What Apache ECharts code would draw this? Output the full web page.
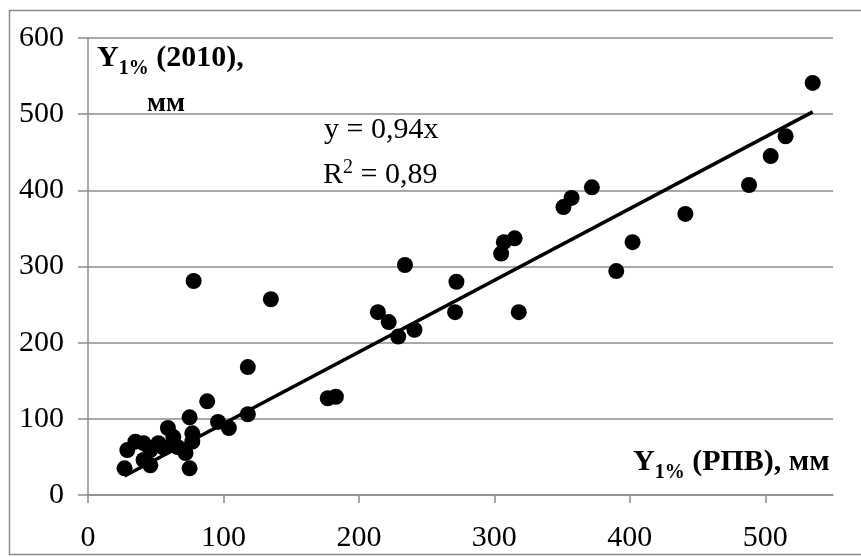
<!DOCTYPE html>
<html>
<head>
    <meta charset="UTF-8">
    <title>Y1% (2010) vs Y1% (РПВ)</title>
    <script src="https://cdn.jsdelivr.net/npm/echarts@6/dist/echarts.min.js"></script>
    <style>
        html, body { margin: 0; padding: 0; background: #fff; }
        #main { width: 861px; height: 557px; }
    </style>
</head>
<body>
<div id="main"></div>
<script type="text/javascript">
    // measured points: x = Y1% (РПВ), y = Y1% (2010), mm
    var pointsX = [535, 515, 504, 488, 441, 402, 390, 372, 357, 351,
                   315, 307, 305, 234, 272, 271, 318, 214, 222, 241,
                   229, 177, 183, 118, 135, 78, 88, 118, 96, 104,
                   77, 75, 77, 59, 63, 72, 75, 66, 52, 46,
                   41, 35, 29, 27, 41, 46, 56];
    var pointsY = [541, 471, 445, 407, 369, 332, 294, 404, 390, 378,
                   337, 332, 317, 302, 280, 240, 240, 240, 227, 217,
                   208, 127, 129, 168, 257, 281, 123, 106, 96, 88,
                   81, 102, 70, 88, 76, 55, 35, 63, 68, 59,
                   46, 70, 59, 35, 68, 39, 62];
    // trend line ends (y = 0,94x)
    var trendX = [27, 535];
    var trendY = [25, 503];
    var xTicks = [0, 100, 200, 300, 400, 500];

    var scatterData = pointsX.map(function (x, i) { return [x, pointsY[i]]; });
    var trendData = trendX.map(function (x, i) { return [x, trendY[i]]; });

    var font = '"Liberation Serif", "Times New Roman", serif';
    var myChart = echarts.init(document.getElementById('main'));

    var option = {
        backgroundColor: '#fff',
        animation: false,
        grid: { left: 88, right: 28, top: 38, bottom: 62 },
        xAxis: {
            type: 'value',
            min: 0,
            max: 550,
            interval: 100,
            axisLine: { show: true, lineStyle: { color: '#8c8c8c', width: 1.5 } },
            axisTick: { show: true, length: 8, customValues: xTicks, lineStyle: { color: '#8c8c8c', width: 1.5 } },
            axisLabel: { customValues: xTicks, margin: 28, color: '#000', fontSize: 30, fontFamily: font },
            splitLine: { show: false }
        },
        yAxis: {
            type: 'value',
            min: 0,
            max: 600,
            interval: 100,
            axisLine: { show: true, lineStyle: { color: '#8c8c8c', width: 1.5 } },
            axisTick: { show: true, length: 10, lineStyle: { color: '#8c8c8c', width: 1.5 } },
            axisLabel: { margin: 24, color: '#000', fontSize: 30, fontFamily: font },
            splitLine: { show: true, lineStyle: { color: '#8c8c8c', width: 1.5 } }
        },
        series: [
            {
                type: 'line',
                data: trendData,
                symbol: 'none',
                lineStyle: { color: '#000', width: 3.5 },
                z: 3
            },
            {
                type: 'scatter',
                data: scatterData,
                symbol: 'circle',
                symbolSize: 16,
                itemStyle: { color: '#000', opacity: 1 },
                z: 4
            }
        ],
        graphic: [
            {
                type: 'rect',
                shape: { x: 9.5, y: 10.5, width: 900, height: 544 },
                style: { fill: 'none', stroke: '#8c8c8c', lineWidth: 1.5 },
                silent: true
            },
            {
                type: 'text',
                left: 97, top: 43,
                style: {
                    text: '{b|Y}{s|1%}{b| (2010),}',
                    rich: {
                        b: { fontSize: 30, fontWeight: 'bold', fontFamily: font, fill: '#000', verticalAlign: 'bottom' },
                        s: { fontSize: 20, fontWeight: 'bold', fontFamily: font, fill: '#000', verticalAlign: 'bottom', padding: [0, 0, -6, 0] }
                    }
                }
            },
            {
                type: 'text',
                left: 147, top: 90,
                style: { text: 'мм', font: 'bold 28px ' + font, fill: '#000' }
            },
            {
                type: 'text',
                left: 633, top: 447,
                style: {
                    text: '{b|Y}{s|1%}{b| (РПВ), мм}',
                    rich: {
                        b: { fontSize: 30, fontWeight: 'bold', fontFamily: font, fill: '#000', verticalAlign: 'bottom' },
                        s: { fontSize: 20, fontWeight: 'bold', fontFamily: font, fill: '#000', verticalAlign: 'bottom', padding: [0, 0, -6, 0] }
                    }
                }
            },
            {
                type: 'text',
                left: 324, top: 115,
                style: { text: 'y = 0,94x', font: '30px ' + font, fill: '#000' }
            },
            {
                type: 'text',
                left: 323, top: 158,
                style: {
                    text: '{n|R}{p|2}{n| = 0,89}',
                    rich: {
                        n: { fontSize: 30, fontFamily: font, fill: '#000', verticalAlign: 'bottom' },
                        p: { fontSize: 20, fontFamily: font, fill: '#000', verticalAlign: 'bottom', padding: [0, 0, 12, 0] }
                    }
                }
            }
        ]
    };
    myChart.setOption(option);
</script>
</body>
</html>
